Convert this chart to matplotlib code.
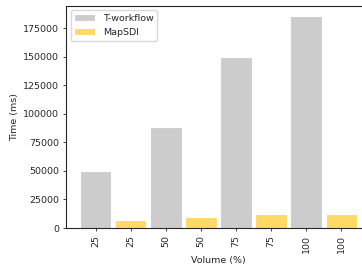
import matplotlib
matplotlib.use('Agg')
import matplotlib.pyplot as plt
import numpy as np

volumes = ['25', '50', '75', '100']
tworkflow = [50000, 88300, 149700, 185500]
mapsdi = [6900, 9800, 12200, 12400]

plt.rcParams['font.family'] = 'DejaVu Sans'
plt.rcParams['font.size'] = 6.8
plt.rcParams['text.color'] = '.15'
plt.rcParams['axes.labelcolor'] = '.15'
plt.rcParams['xtick.color'] = '.15'
plt.rcParams['ytick.color'] = '.15'

fig = plt.figure(figsize=(3.62, 2.67), dpi=100)
ax = fig.add_axes([0.182, 0.146, 0.843, 0.833])

# interleave the two series: T-workflow, MapSDI for each volume
labels = []
for v in volumes:
    labels += [v, v]
xt = np.arange(0, len(labels), 2)
xm = xt + 1

ax.bar(xt, tworkflow, width=0.9, color='#cccccc', edgecolor='white', linewidth=0.8, label='T-workflow')
ax.bar(xm, mapsdi, width=0.9, color='#ffd966', edgecolor='white', linewidth=0.8, label='MapSDI')

ax.set_xticks(np.arange(len(labels)))
ax.set_xticklabels(labels, rotation=90)
ax.set_xlabel('Volume (%)', labelpad=2.5)
ax.set_ylabel('Time (ms)', labelpad=3)
ax.set_yticks(np.arange(0, 200000, 25000))

for s in ax.spines.values():
    s.set_color('.15')
    s.set_linewidth(0.8)
ax.spines['right'].set_visible(False)
ax.tick_params(length=2.5, width=0.6, pad=2.5)

ax.legend(loc='upper left', fontsize=6.8, edgecolor='#d0d0d0', handlelength=2.2)

plt.savefig('out.png', dpi=100)
